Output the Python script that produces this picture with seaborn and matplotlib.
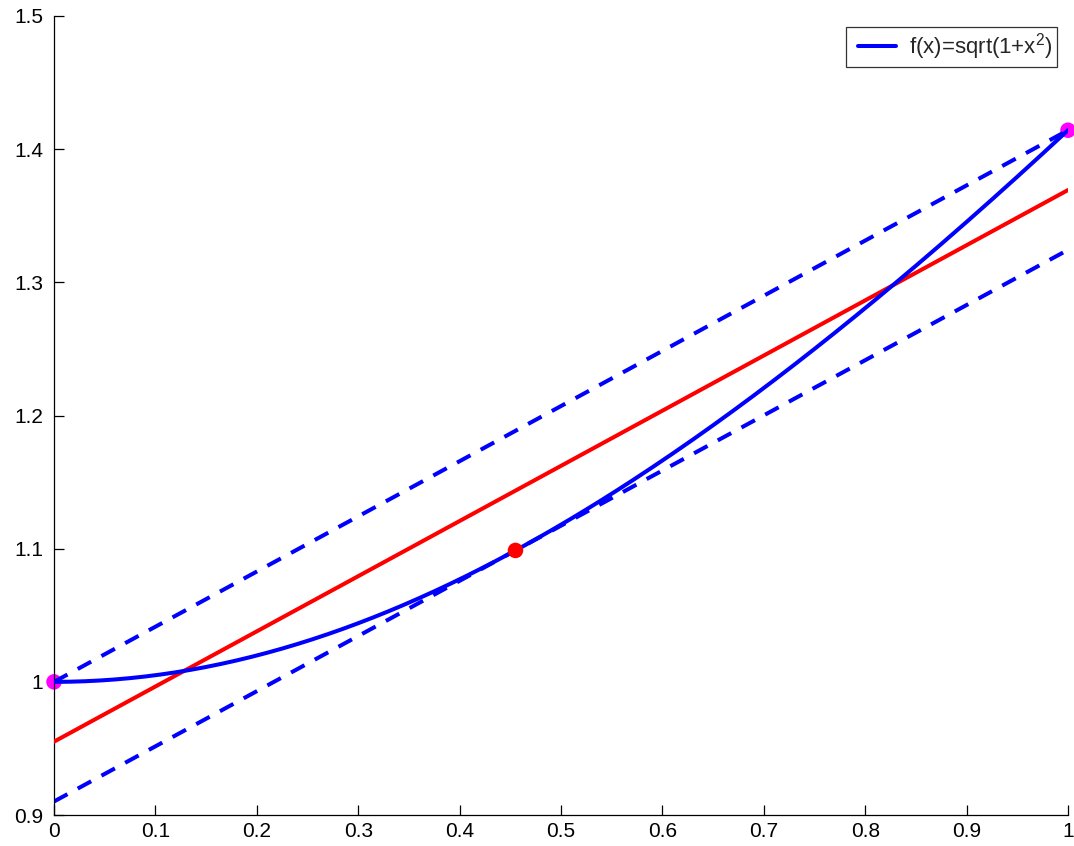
import numpy as np
import pandas as pd
import matplotlib
matplotlib.use("Agg")
import matplotlib.pyplot as plt
from matplotlib.ticker import FuncFormatter
from matplotlib.legend_handler import HandlerLine2D
import seaborn as sns

# Curve f(x) = sqrt(1 + x^2) on [0, 1]
x_curve = np.linspace(0.0, 1.0, 201)
y_curve = np.sqrt(1.0 + x_curve ** 2)

# Straight lines given by their end values at x = 0 and x = 1
line_x = [0.0, 1.0]
secant_y = [1.0, 1.41421]        # upper dashed line through the end points
tangent_y = [0.91017, 1.32438]   # lower dashed tangent line
best_y = [0.95509, 1.36930]      # red line halfway between them

# Marked points
end_x = [0.0, 1.0]
end_y = [1.0, 1.41421]
touch_x = [0.4551]
touch_y = [1.09868]

x_ticks = [0, 0.1, 0.2, 0.3, 0.4, 0.5, 0.6, 0.7, 0.8, 0.9, 1]
y_ticks = [0.9, 1.0, 1.1, 1.2, 1.3, 1.4, 1.5]

sns.set_style("ticks")
plt.rcParams["font.family"] = ["Liberation Sans", "DejaVu Sans"]
plt.rcParams["mathtext.fontset"] = "custom"
plt.rcParams["mathtext.rm"] = "Liberation Sans"

fig = plt.figure(figsize=(10.74, 8.46), dpi=100)
ax = fig.add_axes([0.0503, 0.0366, 0.9441, 0.9445])

blue = (0, 0, 1)
red = (1, 0, 0)
magenta = (1, 0, 1)
lw = 2.9

sns.scatterplot(x=end_x, y=end_y, ax=ax, color=magenta, s=125,
                edgecolor="none", clip_on=False, zorder=1, legend=False)

df_lines = pd.DataFrame({"x": line_x, "sec": secant_y, "tan": tangent_y, "best": best_y})
for col in ["sec", "tan"]:
    sns.lineplot(data=df_lines, x="x", y=col, ax=ax, color=blue, linewidth=lw,
                 zorder=2, legend=False)
    ax.lines[-1].set_dashes((3.8, 2.9))
sns.lineplot(data=df_lines, x="x", y="best", ax=ax, color=red, linewidth=lw, zorder=3)

sns.lineplot(x=x_curve, y=y_curve, ax=ax, color=blue, linewidth=lw, zorder=4,
             label="f(x)=sqrt(1+x$^2$)$\\;\\;$", sort=False)

sns.scatterplot(x=touch_x, y=touch_y, ax=ax, color=red, s=125,
                edgecolor="none", zorder=5, legend=False)

ax.set_xlim(0, 1)
ax.set_ylim(0.9, 1.5)
ax.set_xticks(x_ticks)
ax.set_yticks(y_ticks)
ax.xaxis.set_major_formatter(FuncFormatter(lambda v, p: "%g" % round(v, 2)))
ax.yaxis.set_major_formatter(FuncFormatter(lambda v, p: "%g" % round(v, 2)))
ax.set_xlabel("")
ax.set_ylabel("")

for side in ["top", "right"]:
    ax.spines[side].set_visible(False)
for side in ["left", "bottom"]:
    ax.spines[side].set_color("black")
    ax.spines[side].set_linewidth(0.9)

ax.tick_params(direction="in", length=7, width=0.9, color="black",
               labelsize=15, labelcolor="black", bottom=True, left=True,
               top=False, right=False)
ax.tick_params(axis="x", pad=5)
ax.tick_params(axis="y", pad=8)

handles, labels = ax.get_legend_handles_labels()
leg = ax.legend(handles, labels, loc="upper right", fontsize=16, frameon=True,
                fancybox=False, edgecolor="black", borderaxespad=0.5,
                handlelength=2.37, borderpad=0.2, handletextpad=0.25,
                handler_map={handles[0]: HandlerLine2D(numpoints=2, marker_pad=0.35)})
leg.get_frame().set_linewidth(0.9)

fig.savefig("out.png", dpi=100)
